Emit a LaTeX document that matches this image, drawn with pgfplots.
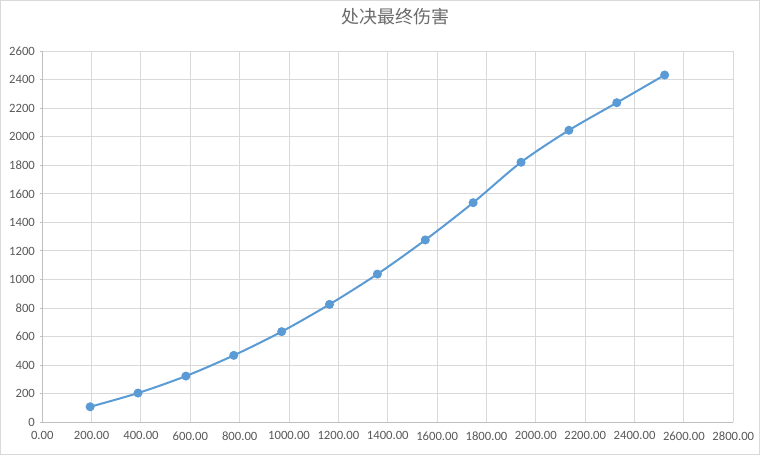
\documentclass[border=0pt]{standalone}
\usepackage{fontspec}
\setmainfont{Carlito}
\newfontfamily\cjk{Noto Sans CJK SC}
\usepackage{pgfplots}
\pgfplotsset{compat=1.18}
\definecolor{serie}{HTML}{5B9BD5}
\definecolor{gridc}{HTML}{D9D9D9}
\definecolor{axc}{HTML}{BFBFBF}
\definecolor{txt}{HTML}{595959}
\begin{document}
\begin{tikzpicture}[x=1pt,y=1pt]
\path[use as bounding box] (-31.7,-24.5) rectangle (538.3,316.75);
\draw[gridc, line width=0.75pt] (-31.3,-24.1) rectangle (537.9,316.35);
\begin{axis}[
  at={(0,0)}, anchor=south west,
  scale only axis, width=518.25pt, height=278.5pt,
  xmin=0, xmax=2800, ymin=0, ymax=2600,
  xtick distance=200, ytick distance=200,
  grid=major,
  major grid style={gridc, line width=0.75pt},
  axis x line*=bottom, axis y line*=left,
  axis line style={axc, line width=0.75pt},
  tick align=outside, major tick length=2pt,
  x tick style={draw=none},
  y tick style={axc, line width=0.75pt},
  /pgf/number format/assume math mode=true,
  xticklabel style={font=\fontsize{9.5}{11}\selectfont, text=txt, yshift=-1.5pt,
    /pgf/number format/.cd, fixed, fixed zerofill, precision=2, 1000 sep={}},
  yticklabel style={font=\fontsize{9.5}{11}\selectfont, text=txt,
    /pgf/number format/.cd, fixed, precision=0, 1000 sep={}},
  scaled ticks=false,
  title={\cjk 处决最终伤害},
  title style={at={(0.5,1)}, anchor=center, yshift=19.5pt, xshift=6pt,
    font=\fontsize{13.5}{15}\selectfont, text=txt!90},
]
\addplot[serie, line width=1.5pt, smooth, tension=0.5, mark=*, mark size=2.6pt,
  mark options={fill=serie, draw=serie}] coordinates {
(194,109) (388,205) (582,324) (776,469) (970,635) (1164,826) (1358,1038)
(1552,1277) (1746,1538) (1940,1821) (2134,2045) (2328,2238) (2522,2432)
};
\end{axis}
\end{tikzpicture}
\end{document}
